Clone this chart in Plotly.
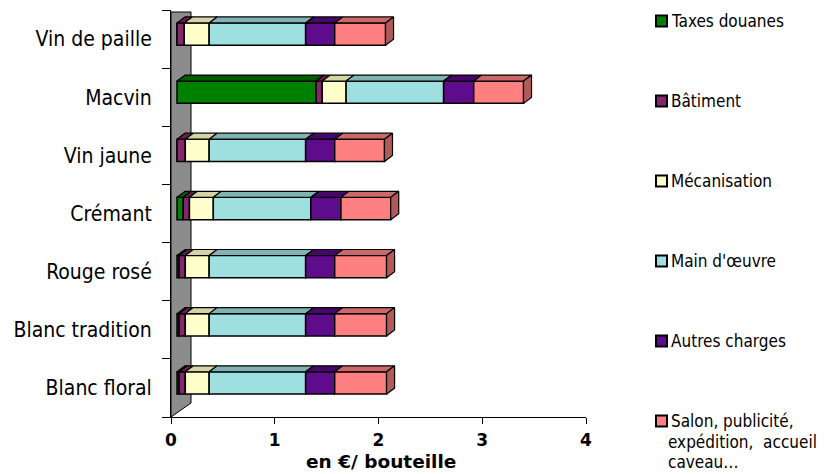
import plotly.graph_objects as go

# ---- data (en € par bouteille) ----
categories = ["Vin de paille", "Macvin", "Vin jaune", "Crémant",
              "Rouge rosé", "Blanc tradition", "Blanc floral"]
taxes_douanes = [0.0, 1.34, 0.0, 0.06, 0.02, 0.02, 0.02]
batiment = [0.07, 0.06, 0.08, 0.06, 0.06, 0.06, 0.06]
mecanisation = [0.24, 0.23, 0.23, 0.23, 0.23, 0.23, 0.23]
main_oeuvre = [0.93, 0.94, 0.93, 0.94, 0.93, 0.93, 0.93]
autres_charges = [0.28, 0.29, 0.28, 0.29, 0.28, 0.28, 0.28]
salon = [0.49, 0.48, 0.48, 0.48, 0.50, 0.50, 0.50]
series_names = ["Taxes douanes", "Bâtiment", "Mécanisation", "Main d'œuvre",
                "Autres charges", "Salon, publicité, expédition,  accueil caveau…"]
legend_lines = [["Taxes douanes"], ["Bâtiment"], ["Mécanisation"], ["Main d'œuvre"],
                ["Autres charges"], ["Salon, publicité,", "expédition,  accueil", "caveau…"]]
x_ticks = [0, 1, 2, 3, 4]
x_title = "en €/ bouteille"

series = [taxes_douanes, batiment, mecanisation, main_oeuvre, autres_charges, salon]
front_colors = ["#008000", "#85266C", "#FFFFCC", "#9EDFDF", "#5E0B8C", "#FF8080"]
top_colors = ["#005C00", "#651D52", "#D6D4A4", "#80B4B4", "#46086A", "#CC6868"]
side_color = "#B25A5A"

# ---- page geometry ----
W, H = 824, 474
ML, MR, MT, MB = 171, 238, 10, 57
PW, PH = W - ML - MR, H - MT - MB
X0, X1 = 0, 4
N = len(categories)


def ux(px):
    """pixel length -> x data units"""
    return px * (X1 - X0) / PW


def uy(px):
    """pixel length -> y data units (one unit per category)"""
    return px * N / PH


def paper_x(px):
    return (px - ML) / PW


def paper_y(py):
    return (H - MB - py) / PH


# pseudo-3D geometry of the bars
OX, OY = ux(6), -uy(5)          # front face shift
BH = uy(22.3)                   # bar thickness
DX, DY = ux(8), -uy(6)          # depth of the box

idx = list(range(N))
fig = go.Figure()

# cumulative starts of each stacked segment
starts = []
acc = [0.0] * N
for vals in series:
    starts.append(list(acc))
    acc = [a + v for a, v in zip(acc, vals)]
totals = acc

# front faces
for k, vals in enumerate(series):
    fig.add_trace(go.Bar(
        y=[i + OY for i in idx], x=vals,
        base=[s + OX for s in starts[k]],
        orientation="h", width=BH, name=series_names[k],
        marker=dict(color=front_colors[k], line=dict(color="black", width=1.5)),
        showlegend=False, hoverinfo="skip"))

# top faces
for k, vals in enumerate(series):
    xs, ys = [], []
    for i in idx:
        if vals[i] <= 0:
            continue
        a = starts[k][i] + OX
        b = a + vals[i]
        t = i + OY - BH / 2
        xs += [a, b, b + DX, a + DX, a, None]
        ys += [t, t, t + DY, t + DY, t, None]
    fig.add_trace(go.Scatter(x=xs, y=ys, mode="lines", fill="toself",
                             fillcolor=top_colors[k],
                             line=dict(color="black", width=1.2),
                             showlegend=False, hoverinfo="skip"))

# right-hand end faces
xs, ys = [], []
for i in idx:
    e = totals[i] + OX
    t = i + OY - BH / 2
    b = i + OY + BH / 2
    xs += [e, e + DX, e + DX, e, e, None]
    ys += [t, t + DY, b + DY, b, t, None]
fig.add_trace(go.Scatter(x=xs, y=ys, mode="lines", fill="toself",
                         fillcolor=side_color, line=dict(color="black", width=1.2),
                         showlegend=False, hoverinfo="skip"))

# grey side wall behind the category axis
y_bot = N - 0.5
y_top = -0.5 + uy(2)
wall = (f"M 0 {y_bot} L 0 {y_top} L {ux(20)} {y_top} "
        f"L {ux(20)} {y_bot - uy(14)} Z")
fig.add_shape(type="path", path=wall, xref="x", yref="y", layer="below",
              fillcolor="#8C8C8C", line=dict(color="black", width=1))

# legend drawn beside the plot
legend_y = [21, 101, 181, 261, 341, 421]
for k, lines in enumerate(legend_lines):
    cy = legend_y[k]
    fig.add_shape(type="rect", xref="paper", yref="paper",
                  x0=paper_x(656), x1=paper_x(667),
                  y0=paper_y(cy + 5.5), y1=paper_y(cy - 5.5),
                  fillcolor=front_colors[k], line=dict(color="black", width=2))
    for j, txt in enumerate(lines):
        fig.add_annotation(text=txt, xref="paper", yref="paper",
                           x=paper_x(669 if j == 0 else 666), y=paper_y(cy + j * 20.7),
                           xanchor="left", yanchor="middle", showarrow=False,
                           font=dict(family="DejaVu Sans Condensed, DejaVu Sans",
                                     size=17, color="black"))

# value-axis title under the tick labels
fig.add_annotation(text=x_title, xref="paper", yref="paper",
                   x=paper_x(381), y=paper_y(461), xanchor="center", yanchor="middle",
                   showarrow=False,
                   font=dict(family="DejaVu Sans", size=18.5, weight="bold", color="black"))

fig.update_layout(
    width=W, height=H, barmode="overlay",
    margin=dict(l=ML, r=MR, t=MT, b=MB, pad=0),
    paper_bgcolor="white", plot_bgcolor="white",
    showlegend=False,
    font=dict(family="DejaVu Sans Condensed, DejaVu Sans", color="black"),
    xaxis=dict(range=[X0, X1], tickvals=x_ticks, ticks="outside", ticklen=6,
               tickcolor="black", showline=True, linecolor="black", linewidth=1,
               showgrid=False, zeroline=False, ticklabelstandoff=2,
               tickfont=dict(family="DejaVu Sans", size=17, weight="bold")),
    yaxis=dict(range=[N - 0.5, -0.5], tickvals=idx, ticktext=categories,
               ticks="", showline=True, linecolor="black", linewidth=1,
               showgrid=False, zeroline=False, ticklabelstandoff=14,
               tickfont=dict(size=21),
               minor=dict(tickmode="linear", tick0=-0.5, dtick=1, ticks="outside",
                          ticklen=8, tickcolor="black", showgrid=False)),
)

fig.write_html("out.html")
